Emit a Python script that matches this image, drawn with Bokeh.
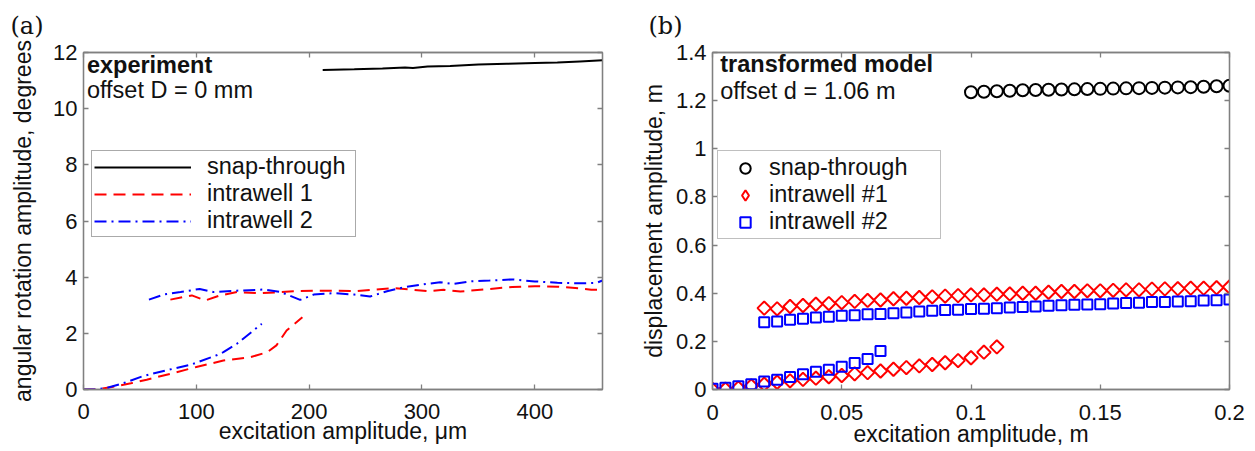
from bokeh.plotting import figure
from bokeh.models import (LinearAxis, Label, Legend, LegendItem, FixedTicker,
                          Range1d, ColumnDataSource, Title)
from bokeh.layouts import row
from bokeh.embed import file_html
from bokeh.resources import INLINE

# ---------------- Panel (a): experiment ----------------
a_x_ticks = [0, 100, 200, 300, 400]
a_x_labels = ["0", "100", "200", "300", "400"]
a_y_ticks = [0, 2, 4, 6, 8, 10, 12]
a_y_labels = ["0", "2", "4", "6", "8", "10", "12"]

snap_x = [212, 240, 265, 285, 292, 305, 325, 350, 375, 400, 420, 440, 460]
snap_y = [11.38, 11.40, 11.43, 11.47, 11.45, 11.50, 11.52, 11.57, 11.60, 11.63, 11.64, 11.68, 11.72]

iw1_low_x = [0, 12, 24, 42, 56, 77, 100, 124, 148, 163, 171, 180, 194]
iw1_low_y = [0.0, 0.0, 0.08, 0.22, 0.35, 0.56, 0.80, 1.03, 1.15, 1.33, 1.57, 2.10, 2.57]
iw1_up_x = [77, 96, 108, 121, 136, 157, 175, 186, 204, 222, 240, 257, 275, 290, 305,
            319, 334, 343, 360, 380, 400, 420, 440, 450, 460]
iw1_up_y = [3.20, 3.35, 3.17, 3.35, 3.47, 3.43, 3.47, 3.50, 3.52, 3.52, 3.50, 3.55, 3.61, 3.56, 3.50,
            3.55, 3.49, 3.52, 3.58, 3.65, 3.68, 3.66, 3.60, 3.55, 3.55]

iw2_low_x = [0, 10, 21, 35, 53, 71, 95, 118, 124, 136, 158]
iw2_low_y = [0.0, 0.0, 0.06, 0.22, 0.48, 0.66, 0.88, 1.22, 1.33, 1.63, 2.34]
iw2_up_x = [58, 71, 86, 103, 115, 136, 160, 175, 192, 204, 222, 240, 254, 269, 284, 299,
            316, 328, 343, 360, 380, 400, 420, 440, 455, 460]
iw2_up_y = [3.20, 3.38, 3.47, 3.58, 3.47, 3.52, 3.56, 3.47, 3.19, 3.38, 3.43, 3.38, 3.31, 3.50, 3.64, 3.73,
            3.82, 3.76, 3.85, 3.88, 3.92, 3.85, 3.80, 3.78, 3.80, 3.88]

# ---------------- Panel (b): transformed model ----------------
b_x_ticks = [0, 0.05, 0.1, 0.15, 0.2]
b_x_labels = ["0", "0.05", "0.1", "0.15", "0.2"]
b_y_ticks = [0, 0.2, 0.4, 0.6, 0.8, 1.0, 1.2, 1.4]
b_y_labels = ["0", "0.2", "0.4", "0.6", "0.8", "1", "1.2", "1.4"]

m_snap_x = [0.100, 0.105, 0.110, 0.115, 0.120, 0.125, 0.130, 0.135, 0.140, 0.145, 0.150,
            0.155, 0.160, 0.165, 0.170, 0.175, 0.180, 0.185, 0.190, 0.195, 0.200]
m_snap_y = [1.235, 1.237, 1.239, 1.241, 1.243, 1.244, 1.245, 1.246, 1.247, 1.248, 1.249,
            1.250, 1.251, 1.252, 1.253, 1.254, 1.255, 1.256, 1.258, 1.260, 1.262]

m_iw1_low_x = [0.000, 0.005, 0.010, 0.015, 0.020, 0.025, 0.030, 0.035, 0.040, 0.045, 0.050, 0.055,
               0.060, 0.065, 0.070, 0.075, 0.080, 0.085, 0.090, 0.095, 0.100, 0.105, 0.110]
m_iw1_low_y = [0.000, 0.001, 0.006, 0.015, 0.022, 0.030, 0.036, 0.042, 0.047, 0.053, 0.058, 0.065,
               0.070, 0.077, 0.084, 0.091, 0.098, 0.104, 0.111, 0.120, 0.132, 0.155, 0.177]

m_up_x = [0.020, 0.025, 0.030, 0.035, 0.040, 0.045, 0.050, 0.055, 0.060, 0.065, 0.070, 0.075,
          0.080, 0.085, 0.090, 0.095, 0.100, 0.105, 0.110, 0.115, 0.120, 0.125, 0.130, 0.135,
          0.140, 0.145, 0.150, 0.155, 0.160, 0.165, 0.170, 0.175, 0.180, 0.185, 0.190, 0.195, 0.200]
m_iw1_up_y = [0.338, 0.335, 0.345, 0.349, 0.354, 0.357, 0.361, 0.366, 0.370, 0.372, 0.377, 0.379,
              0.382, 0.385, 0.388, 0.390, 0.393, 0.393, 0.396, 0.397, 0.400, 0.400, 0.404, 0.407,
              0.407, 0.410, 0.410, 0.412, 0.414, 0.414, 0.417, 0.418, 0.419, 0.421, 0.421, 0.423, 0.426]
m_iw2_up_y = [0.279, 0.283, 0.290, 0.294, 0.299, 0.302, 0.306, 0.308, 0.313, 0.314, 0.317, 0.320,
              0.324, 0.327, 0.330, 0.331, 0.334, 0.335, 0.338, 0.341, 0.343, 0.345, 0.348, 0.350,
              0.352, 0.353, 0.354, 0.357, 0.359, 0.360, 0.363, 0.364, 0.366, 0.367, 0.370, 0.371, 0.374]

m_iw2_low_x = [0.000, 0.005, 0.010, 0.015, 0.020, 0.025, 0.030, 0.035, 0.040, 0.045, 0.050,
               0.055, 0.060, 0.065]
m_iw2_low_y = [0.003, 0.007, 0.013, 0.022, 0.033, 0.040, 0.052, 0.063, 0.074, 0.082, 0.095,
               0.110, 0.127, 0.160]

FONT = "Liberation Sans"
GRAY = "#808080"
TXT = "#111111"
TICK_FS = "22px"
LABEL_FS = "23px"
TEXT_FS = "23.5px"


def style(p, xt, xl, yt, yl, xlabel, ylabel, y_label_standoff, x_tick_standoff, x_label_standoff):
    p.grid.visible = False
    p.outline_line_color = GRAY
    p.outline_line_width = 1.3
    p.background_fill_color = "white"
    p.border_fill_color = "white"
    for ax, ticks, labels in ((p.xaxis[0], xt, xl), (p.yaxis[0], yt, yl)):
        ax.ticker = FixedTicker(ticks=ticks)
        ax.major_label_overrides = {t: s for t, s in zip(ticks, labels)}
        ax.major_label_text_font = FONT
        ax.major_label_text_font_size = TICK_FS
        ax.major_label_text_color = TXT
        ax.axis_label_text_font = FONT
        ax.axis_label_text_font_size = LABEL_FS
        ax.axis_label_text_font_style = "normal"
        ax.axis_label_text_color = TXT
        ax.axis_line_color = GRAY
        ax.axis_line_width = 1.3
        ax.major_tick_line_color = GRAY
        ax.major_tick_line_width = 1.3
        ax.major_tick_in = 5
        ax.major_tick_out = 0
        ax.minor_tick_line_color = None
    p.xaxis[0].axis_label = xlabel
    p.yaxis[0].axis_label = ylabel
    p.xaxis[0].major_label_standoff = x_tick_standoff
    p.xaxis[0].axis_label_standoff = x_label_standoff
    p.yaxis[0].major_label_standoff = 6
    p.yaxis[0].axis_label_standoff = y_label_standoff
    # mirrored ticks on top and right (no visible labels)
    for side, ticks in (("above", xt), ("right", yt)):
        ax = LinearAxis(ticker=FixedTicker(ticks=ticks))
        ax.major_label_text_font_size = "1px"
        ax.major_label_text_color = None
        ax.major_label_standoff = 0
        ax.axis_line_color = GRAY
        ax.axis_line_width = 1.3
        ax.major_tick_line_color = GRAY
        ax.major_tick_line_width = 1.3
        ax.major_tick_in = 5
        ax.major_tick_out = 0
        ax.minor_tick_line_color = None
        p.add_layout(ax, side)


def panel_title(text, offset, standoff):
    return Title(text=text, align="left", offset=offset, standoff=standoff, vertical_align="top",
                 text_font="DejaVu Serif", text_font_size="24px",
                 text_font_style="normal", text_color=TXT)


# ---------- figure (a) ----------
pa = figure(width=632, height=451, output_backend="svg", toolbar_location=None,
            x_range=Range1d(0, 460), y_range=Range1d(0, 12),
            min_border_left=83, min_border_right=30, min_border_top=52, min_border_bottom=62)
pa.title = panel_title("(a)", -73, 22)
style(pa, a_x_ticks, a_x_labels, a_y_ticks, a_y_labels,
      "excitation amplitude, \u03bcm", "angular rotation amplitude, degrees", 14, 14, -4)

r_snap = pa.line(snap_x, snap_y, line_color="black", line_width=2)
r_iw1 = pa.line(iw1_low_x, iw1_low_y, line_color="#ff0000", line_width=2, line_dash="12 7")
pa.line(iw1_up_x, iw1_up_y, line_color="#ff0000", line_width=2, line_dash="12 7")
r_iw2 = pa.line(iw2_low_x, iw2_low_y, line_color="#0000ff", line_width=2, line_dash="12 5 2 5")
pa.line(iw2_up_x, iw2_up_y, line_color="#0000ff", line_width=2, line_dash="12 5 2 5")

leg_a = Legend(items=[LegendItem(label="snap-through", renderers=[r_snap]),
                      LegendItem(label="intrawell 1", renderers=[r_iw1]),
                      LegendItem(label="intrawell 2", renderers=[r_iw2])],
               location=(8, 152), margin=0, padding=2, spacing=0,
               glyph_width=97, glyph_height=24, label_height=24, label_width=146,
               label_standoff=16, label_text_font=FONT, label_text_font_size=TEXT_FS,
               label_text_color=TXT, border_line_color="#555555", border_line_width=1.3,
               background_fill_color="white", background_fill_alpha=1)
pa.add_layout(leg_a, "center")

pa.add_layout(Label(x=3, y=11.54, text="experiment", text_font=FONT, text_font_size=TEXT_FS,
                    text_font_style="bold", text_baseline="middle", text_color=TXT))
pa.add_layout(Label(x=3, y=10.65, text="offset D = 0 mm", text_font=FONT, text_font_size=TEXT_FS,
                    text_baseline="middle", text_color=TXT))

# ---------- figure (b) ----------
pb = figure(width=623, height=451, output_backend="svg", toolbar_location=None,
            x_range=Range1d(0, 0.2), y_range=Range1d(0, 1.4),
            min_border_left=80, min_border_right=26, min_border_top=51, min_border_bottom=60)
pb.title = panel_title("(b)", -64, 21)
style(pb, b_x_ticks, b_x_labels, b_y_ticks, b_y_labels,
      "excitation amplitude, m", "displacement amplitude, m", 6, 15, -2)

src_snap = ColumnDataSource(dict(x=m_snap_x, y=m_snap_y))
src_iw1 = ColumnDataSource(dict(x=m_iw1_low_x + m_up_x, y=m_iw1_low_y + m_iw1_up_y))
src_iw2 = ColumnDataSource(dict(x=m_iw2_low_x + m_up_x, y=m_iw2_low_y + m_iw2_up_y))

rb_snap = pb.scatter("x", "y", source=src_snap, marker="circle", size=12, fill_color=None,
                     line_color="black", line_width=2)
pb.scatter("x", "y", source=src_iw1, marker="square", angle=0.785398, size=9.5,
           fill_color=None, line_color="#ff0000", line_width=2)
rb_iw2 = pb.scatter("x", "y", source=src_iw2, marker="square", size=10, fill_color=None,
                    line_color="#0000ff", line_width=2)
# hidden renderer used only to draw the diamond symbol in the legend
rb_iw1_key = pb.scatter("x", "y", source=src_iw1, marker="diamond", size=12, fill_color=None,
                        line_color="#ff0000", line_width=2, visible=False)

leg_b = Legend(items=[LegendItem(label="snap-through", renderers=[rb_snap]),
                      LegendItem(label="intrawell #1", renderers=[rb_iw1_key]),
                      LegendItem(label="intrawell #2", renderers=[rb_iw2])],
               location=(5, 150), margin=0, padding=3, spacing=0,
               glyph_width=48, glyph_height=26, label_height=25, label_width=168,
               label_standoff=0, label_text_font=FONT, label_text_font_size=TEXT_FS,
               label_text_color=TXT, border_line_color=GRAY, border_line_width=1.3,
               background_fill_color="white", background_fill_alpha=1)
pb.add_layout(leg_b, "center")

pb.add_layout(Label(x=0.003, y=1.351, text="transformed model", text_font=FONT,
                    text_font_size=TEXT_FS, text_font_style="bold", text_baseline="middle",
                    text_color=TXT))
pb.add_layout(Label(x=0.003, y=1.24, text="offset d = 1.06 m", text_font=FONT,
                    text_font_size=TEXT_FS, text_baseline="middle", text_color=TXT))

layout = row(pa, pb)
open("out.html", "w").write(file_html(layout, INLINE))
